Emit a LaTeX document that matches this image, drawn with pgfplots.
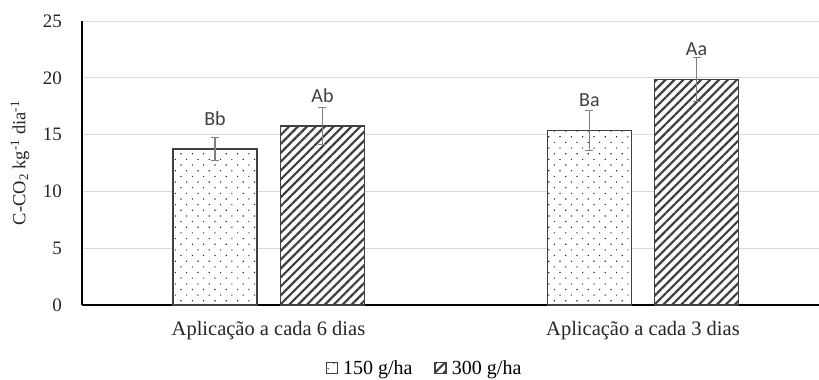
\documentclass[border=0pt]{standalone}
\usepackage{fontspec}
\setmainfont{Liberation Serif}
\newfontfamily\calib{Carlito}
\usepackage{pgfplots}
\pgfplotsset{compat=1.18}
\usetikzlibrary{patterns.meta}
\definecolor{edge}{HTML}{404040}
\definecolor{gridc}{HTML}{D9D9D9}
\definecolor{errc}{HTML}{808080}
\pgfplotstableread{
x y e lab
-0.1429 13.73 1.00 Bb
0.8571 15.35 1.75 Ba
}\lowdose
\pgfplotstableread{
x y e lab
0.1442 15.76 1.65 Ab
1.1429 19.87 1.95 Aa
}\highdose
\begin{document}
\begin{tikzpicture}
\begin{axis}[
  at={(0,0)}, anchor=south west,
  scale only axis, width=737pt, height=284pt,
  xmin=-0.498, xmax=1.47, ymin=0, ymax=25,
  ytick={0,5,10,15,20,25},
  xtick={0,1},
  xticklabels={Aplicação a cada 6 dias, Aplicação a cada 3 dias},
  major tick length=0pt,
  axis x line=bottom, axis y line=left,
  axis line style={-, line width=1.1pt, color=black},
  ymajorgrids, grid style={color=gridc, line width=1pt},
  /pgf/number format/assume math mode=true,
  tick label style={font=\fontsize{19}{22}\selectfont, color=black!85, inner sep=0pt},
  yticklabel style={xshift=-20pt},
  xticklabel style={yshift=-16pt, font=\fontsize{20.5}{24}\selectfont},
  ylabel={C-CO\textsubscript{2} kg\textsuperscript{-1} dia\textsuperscript{-1}},
  ylabel style={at={(axis description cs:0,0.5)}, anchor=center, yshift=62pt, font=\fontsize{18.5}{22}\selectfont, color=black!85},
  ybar, bar width=0.2243, bar shift=0pt,
  point meta=explicit symbolic,
  nodes near coords,
  nodes near coords style={font=\calib\fontsize{20}{24}\selectfont, color=edge, inner sep=0pt, anchor=south, yshift=23pt},
  error bars/y dir=both, error bars/y explicit,
  error bars/error bar style={line width=1.2pt, color=errc},
  error bars/error mark options={rotate=90, mark size=4pt, line width=1.2pt, color=errc},
  legend style={at={(axis description cs:0.4647,-0.2218)}, anchor=center, draw=none, fill=none,
    legend columns=2, font=\fontsize{20}{24}\selectfont, inner sep=0pt,
    /tikz/every odd column/.append style={column sep=3pt},
    /tikz/every even column/.append style={column sep=20pt}},
  legend image code/.code={\draw[#1] (0pt,-5.5pt) rectangle (11pt,5.5pt);},
]
\addplot[fill=white, draw=edge, line width=1.5pt,
  postaction={pattern={Dots[distance=8pt, radius=0.8pt, angle=45]}, pattern color=black!85}]
  table[x=x, y=y, y error=e, meta=lab] {\lowdose};
\addlegendentry{150 g/ha}
\addplot[fill=white, draw=edge, line width=1.5pt,
  postaction={pattern={Lines[angle=45, distance=6.3pt, line width=2.2pt]}, pattern color=edge}]
  table[x=x, y=y, y error=e, meta=lab] {\highdose};
\addlegendentry{300 g/ha}
\end{axis}
\pgfresetboundingbox
\path[use as bounding box] (-82pt,-75pt) rectangle (737pt,305pt);
\end{tikzpicture}
\end{document}
